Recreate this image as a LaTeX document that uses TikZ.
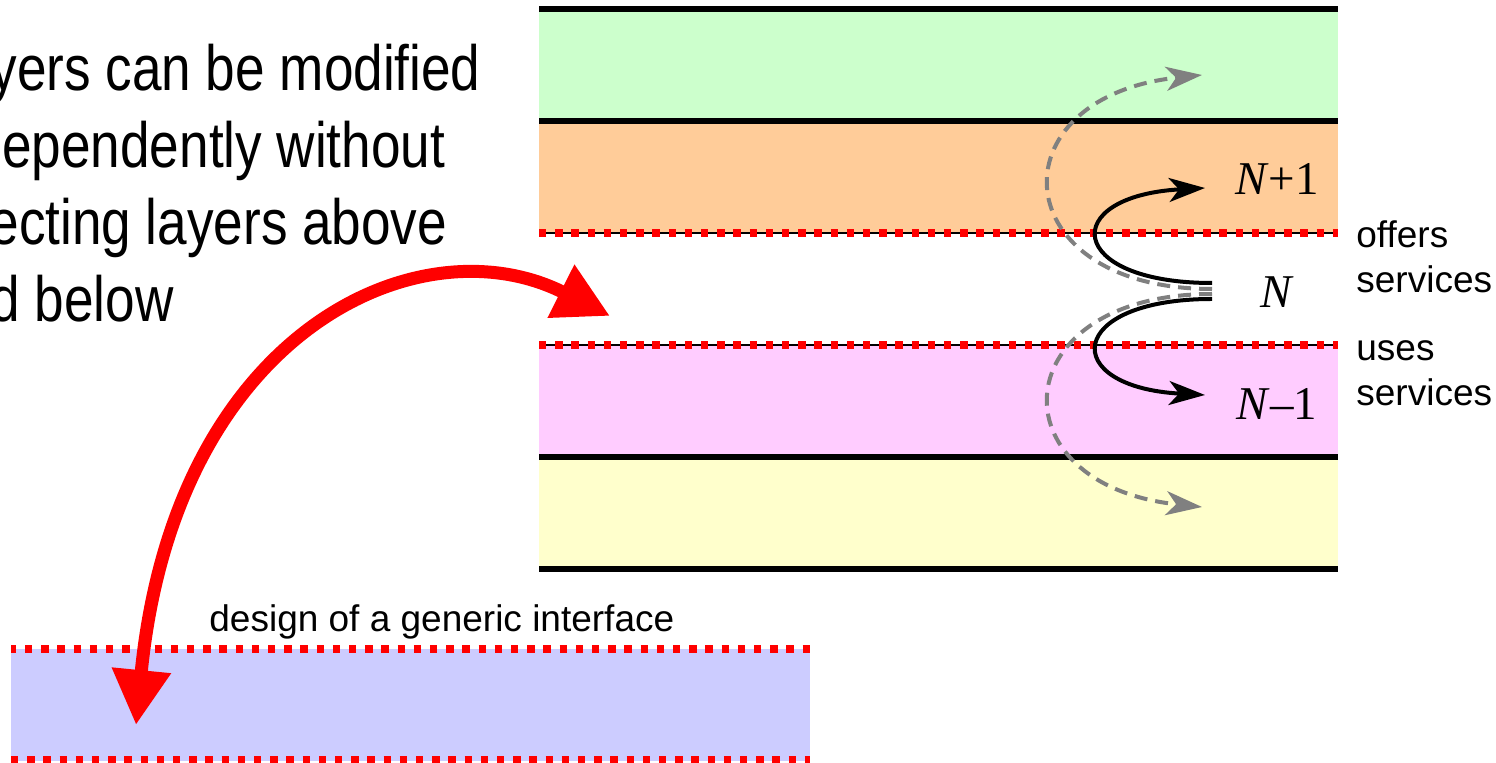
\documentclass[tikz,border=0pt]{standalone}
\usepackage{fontspec}
\setmainfont{Liberation Sans}
\newfontfamily\narrowfont[FakeStretch=0.83]{Liberation Sans}
\newfontfamily\seriffont{Liberation Serif}
\usepackage{xcolor}
\definecolor{layergreen}{HTML}{CCFFCC}
\definecolor{layerorange}{HTML}{FFCC99}
\definecolor{layerpink}{HTML}{FFCCFF}
\definecolor{layeryellow}{HTML}{FFFFCC}
\definecolor{ifaceblue}{HTML}{CCCCFF}
\definecolor{passgray}{HTML}{808080}
\usetikzlibrary{arrows.meta}
\tikzset{
    rule/.style={
        draw=black,
        line width=2.75pt
    },
    dots/.style={
        draw=red,
        line width=4pt,
        dash pattern=on 3.7pt off 4.4pt
    },
    iface/.style={
        draw=black,
        line width=1pt,
        postaction={dots}
    },
    small/.style={
        font=\fontsize{18.5}{22.5}\selectfont,
        inner sep=0pt
    },
    layerlabel/.style={
        font=\seriffont\fontsize{23.5}{28}\selectfont,
        inner sep=0pt
    },
    service/.style={
        line width=2pt,
        -{Stealth[length=18pt, width=12pt, inset=5pt]}
    },
    pass/.style={
        draw=passgray,
        line width=2pt,
        dash pattern=on 6.5pt off 4pt,
        -{Stealth[length=18pt, width=12pt, inset=5pt]}
    },
    bigarrow/.style={
        draw=red,
        line width=6.5pt,
        {Triangle[length=27.5pt, width=28pt]}-{Triangle[length=27.5pt, width=28pt]}
    },
}

\begin{document}
\begin{tikzpicture}[x=0.5pt, y=-0.5pt]
    \useasboundingbox (0,0) rectangle (1496,763);

    % layer stack
    \fill[layergreen]  (539,9)   rectangle (1338,121);
    \fill[layerorange] (539,121) rectangle (1338,233);
    \fill[layerpink]   (539,345) rectangle (1338,457);
    \fill[layeryellow] (539,457) rectangle (1338,569);
    \foreach \y in {9,121,457,569}
        \draw[rule] (539,\y) -- (1338,\y);
    \foreach \y in {233,345}
        \draw[iface] (539,\y) -- (1338,\y);

    \node[layerlabel] (upper) at (1277,179) {\textit{N}+1};
    \node[layerlabel] (layer) at (1277,292) {\textit{N}};
    \node[layerlabel] (lower) at (1277,404) {\textit{N}\textendash1};
    \node[small, anchor=base west, align=left] (offers) at (1356,293) {offers\\services};
    \node[small, anchor=base west, align=left] (uses) at (1356,406) {uses\\services};

    % generic interface
    \fill[ifaceblue] (11,649) rectangle (810,761);
    \draw[dots, dash phase=-7pt] (11,649) -- (810,649);
    \draw[dots] (11,760) -- (810,760);
    \node[small, anchor=base west] (design) at (209,632) {design of a generic interface};

    \node[anchor=base west, align=left, inner sep=0pt,
          font=\narrowfont\fontsize{32}{38.5}\selectfont] (claim) at (-69,322)
          {Layers can be modified\\independently without\\affecting layers above\\and below};

    % services between neighbours
    \coordinate (offA) at (1212,283);
    \coordinate (passA) at (1212,289);
    \coordinate (passB) at (1212,294);
    \coordinate (useA) at (1212,299);
    \coordinate (offEnd) at (1205,188);
    \coordinate (useEnd) at (1205,395);
    \coordinate (passAEnd) at (1202,75);
    \coordinate (passBEnd) at (1202,507);

    \draw[pass] (passA) .. controls +(-209,0) and +(-209,22) .. (passAEnd);
    \draw[pass] (passB) .. controls +(-209,0) and +(-209,-22) .. (passBEnd);
    \draw[service] (offA) .. controls +(-147,0) and +(-147,8) .. (offEnd);
    \draw[service] (useA) .. controls +(-147,0) and +(-147,-8) .. (useEnd);

    % swap in a new implementation
    \coordinate (ifaceTip) at (136,725);
    \coordinate (layerTip) at (610,316);
    \draw[bigarrow] (ifaceTip) .. controls (175,330) and (420,220) .. (layerTip);
\end{tikzpicture}
\end{document}
